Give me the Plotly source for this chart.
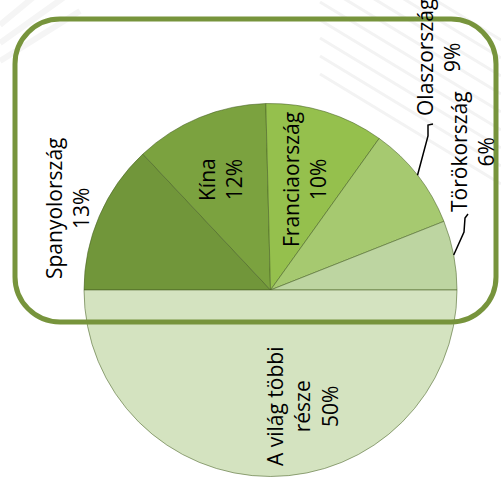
import math
import plotly.graph_objects as go

# ---- data ----
labels = ["Spanyolország", "Kína", "Franciaország", "Olaszország", "Törökország", "A világ többi része"]
values = [13.0, 11.6, 10.3, 9.1, 6.0, 50.0]
label_lines = [["Spanyolország"], ["Kína"], ["Franciaország"], ["Olaszország"], ["Törökország"],
               ["A világ többi", "része"]]
colors = ["#71963a", "#7ba23f", "#95c04d", "#a6c970", "#bdd5a1", "#d4e3c0"]

# ---- geometry / style ----
W, H = 501, 498
CX, CY, R = 270.5, 290.0, 186.5
ROT = 270
FONT = dict(family="Open Sans", size=21, color="#000000")
GREEN = "#77943c"

# label block centres (pixels)
label_pos = [(67, 208), (220, 180), (304, 180), (438, 58), (472, 152), (302, 407)]


def px(x):
    return x / W


def py(y):
    return 1 - y / H


fig = go.Figure(go.Pie(
    labels=labels, values=values, sort=False, direction="clockwise", rotation=ROT,
    marker=dict(colors=colors, line=dict(color="rgba(70,95,35,0.55)", width=1)),
    textinfo="none", hoverinfo="label+percent", showlegend=False,
    domain=dict(x=[px(CX - R), px(CX + R)], y=[py(CY + R), py(CY - R)]),
))

total = sum(values)
annotations = []
for i, (lines, v) in enumerate(zip(label_lines, values)):
    pct = f"{round(v / total * 100)}%"
    txt = "<br>".join(lines + [pct])
    x, y = label_pos[i]
    annotations.append(dict(x=px(x), y=py(y), xref="paper", yref="paper", text=txt,
                            showarrow=False, textangle=-90, font=FONT, align="center",
                            xanchor="center", yanchor="middle"))

# slice mid-angles (clockwise from 12 o'clock)
mid = []
cum = 0
for v in values:
    a = ROT + 360 * (cum + v / 2) / total
    mid.append(a)
    cum += v


def edge(i):
    a = math.radians(mid[i])
    return CX + R * math.sin(a), CY - R * math.cos(a)


shapes = []

# faint background stripes
for k in range(9):
    y0 = -70 + k * 18
    shapes.append(dict(type="line", xref="paper", yref="paper", layer="below",
                       x0=px(320), y0=py(y0), x1=px(501), y1=py(y0 + 110),
                       line=dict(color="#f3f3f3", width=3)))
for k in range(3):
    y0 = 25 + k * 18
    shapes.append(dict(type="line", xref="paper", yref="paper", layer="below",
                       x0=px(0), y0=py(y0), x1=px(60 + k * 10), y1=py(y0 - 50),
                       line=dict(color="#f5f5f5", width=6)))

# leader lines
ex, ey = edge(3)
pts = [(433, 124), (428, 125), (428, 136), (ex, ey)]
path = "M " + " L ".join(f"{px(a)},{py(b)}" for a, b in pts)
shapes.append(dict(type="path", xref="paper", yref="paper", path=path,
                   line=dict(color="#000000", width=1.5)))
ex, ey = edge(4)
pts = [(468, 214), (465, 218), (464, 232), (ex, ey)]
path = "M " + " L ".join(f"{px(a)},{py(b)}" for a, b in pts)
shapes.append(dict(type="path", xref="paper", yref="paper", path=path,
                   line=dict(color="#000000", width=1.5)))

# rounded rectangle frame
L_, T_, R_, B_, RAD = 15, 19, 496, 322, 45
k = 0.5523 * RAD


def P(x, y):
    return f"{px(x)},{py(y)}"


rr = (f"M {P(L_ + RAD, T_)} L {P(R_ - RAD, T_)} "
      f"C {P(R_ - RAD + k, T_)} {P(R_, T_ + RAD - k)} {P(R_, T_ + RAD)} "
      f"L {P(R_, B_ - RAD)} "
      f"C {P(R_, B_ - RAD + k)} {P(R_ - RAD + k, B_)} {P(R_ - RAD, B_)} "
      f"L {P(L_ + RAD, B_)} "
      f"C {P(L_ + RAD - k, B_)} {P(L_, B_ - RAD + k)} {P(L_, B_ - RAD)} "
      f"L {P(L_, T_ + RAD)} "
      f"C {P(L_, T_ + RAD - k)} {P(L_ + RAD - k, T_)} {P(L_ + RAD, T_)} Z")
shapes.append(dict(type="path", xref="paper", yref="paper", path=rr, layer="above",
                   line=dict(color=GREEN, width=5)))

fig.update_layout(width=W, height=H, margin=dict(l=0, r=0, t=0, b=0),
                  paper_bgcolor="#ffffff", plot_bgcolor="#ffffff",
                  annotations=annotations, shapes=shapes)

fig.write_html("out.html", config={"displayModeBar": False},
               post_script="document.body.style.margin='0px';document.body.style.overflow='hidden';")
